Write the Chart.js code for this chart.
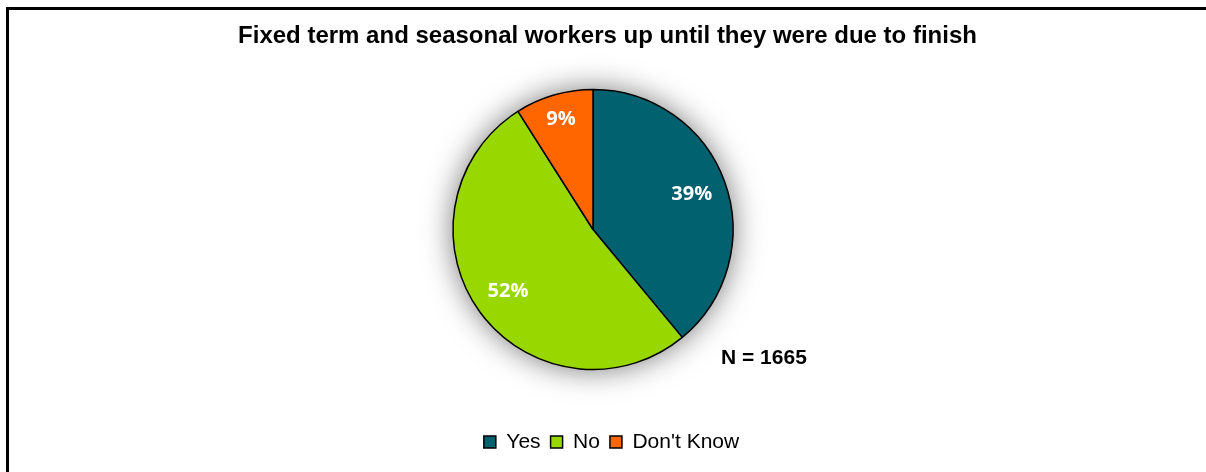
<!DOCTYPE html>
<html>
<head>
<meta charset="utf-8">
<title>Fixed term and seasonal workers</title>
<script src="https://cdn.jsdelivr.net/npm/chart.js@4.4.1/dist/chart.umd.min.js"></script>
<style>
  html, body { margin: 0; padding: 0; background: #fff; overflow: hidden; }
  #wrap { position: relative; width: 1206px; height: 472px; }
  #frame {
    position: absolute; left: 6px; top: 7px; width: 1400px; height: 600px;
    border-top: 3px solid #000; border-left: 3px solid #000;
    pointer-events: none;
  }
  canvas { position: absolute; left: 0; top: 0; }
</style>
</head>
<body>
<div id="wrap">
  <canvas id="pieChart" width="1206" height="472"></canvas>
  <div id="frame"></div>
</div>
<script>
// ---------------------------------------------------------------
//  回答の内訳（パイチャート）
// ---------------------------------------------------------------
const titleText    = "Fixed term and seasonal workers up until they were due to finish";
const categories   = ["Yes", "No", "Don't Know"];
const shares       = [39, 52, 9];
const sliceColours = ["#02616F", "#99D700", "#FF6600"];
const sampleNote   = "N = 1665";

// パイの後ろにぼかした影を描く
const pieShadow = {
  id: "pieShadow",
  beforeDatasetsDraw(chart) {
    const arc = chart.getDatasetMeta(0).data[0];
    if (!arc) return;
    const { ctx } = chart;
    ctx.save();
    ctx.shadowColor = "rgba(0,0,0,0.55)";
    ctx.shadowBlur  = 30;
    ctx.fillStyle   = "#fff";
    ctx.beginPath();
    ctx.arc(arc.x, arc.y, arc.outerRadius, 0, Math.PI * 2);
    ctx.fill();
    ctx.restore();
  },
};

// 各スライスに白抜きの % ラベル
const sliceLabels = {
  id: "sliceLabels",
  afterDatasetsDraw(chart) {
    const { ctx } = chart;
    const values = chart.data.datasets[0].data;
    ctx.save();
    ctx.fillStyle    = "#fff";
    ctx.font         = "bold 20px 'Open Sans'";
    ctx.textAlign    = "center";
    ctx.textBaseline = "middle";
    chart.getDatasetMeta(0).data.forEach((arc, i) => {
      const sweep = arc.endAngle - arc.startAngle;
      const mid   = arc.startAngle + sweep / 2;
      const r     = arc.outerRadius * (sweep < 1 ? 0.82 : 0.75);  // 小さいスライスは外寄り
      ctx.fillText(values[i] + "%", arc.x + Math.cos(mid) * r, arc.y + Math.sin(mid) * r);
    });
    ctx.restore();
  },
};

// 右下の N 表記
const sampleSize = {
  id: "sampleSize",
  afterDraw(chart) {
    const arc = chart.getDatasetMeta(0).data[0];
    if (!arc) return;
    const { ctx } = chart;
    ctx.save();
    ctx.fillStyle    = "#000";
    ctx.font         = "bold 21px 'Liberation Sans'";
    ctx.textAlign    = "left";
    ctx.textBaseline = "middle";
    ctx.fillText(sampleNote, arc.x + 128, arc.y + 129);
    ctx.restore();
  },
};

// タイトルと凡例を少し右へ寄せる
const shiftBoxes = {
  id: "shiftBoxes",
  afterLayout(chart, args, opts) {
    const t = chart.titleBlock, l = chart.legend;
    if (t) { t.left += opts.title; t.right += opts.title; }
    if (l) { l.left += opts.legend; l.right += opts.legend; }
  },
};

new Chart(document.getElementById("pieChart"), {
  type: "pie",
  data: {
    labels: categories,
    datasets: [{
      data: shares,
      backgroundColor: sliceColours,
      borderColor: "#000",
      borderWidth: 1.5,
      radius: 140,
    }],
  },
  options: {
    responsive: false,
    animation: false,
    devicePixelRatio: 1,
    layout: { padding: { left: 0, right: 20, top: 0, bottom: 9.5 } },
    plugins: {
      title: {
        display: true,
        text: titleText,
        color: "#000",
        font: { family: "'Liberation Sans'", size: 24, weight: "bold", lineHeight: 1.2 },
        padding: { top: 22, bottom: 0.7 },
      },
      legend: {
        position: "bottom",
        title: { display: true, text: "", font: { size: 14, lineHeight: 1 }, padding: 0 },
        labels: {
          color: "#000",
          boxWidth: 12,
          boxHeight: 12,
          padding: 10,
          font: { family: "'Liberation Sans'", size: 21 },
        },
      },
      tooltip: { enabled: false },
      shiftBoxes: { title: 14.5, legend: 18.5 },
    },
  },
  plugins: [pieShadow, sliceLabels, sampleSize, shiftBoxes],
});
</script>
</body>
</html>
